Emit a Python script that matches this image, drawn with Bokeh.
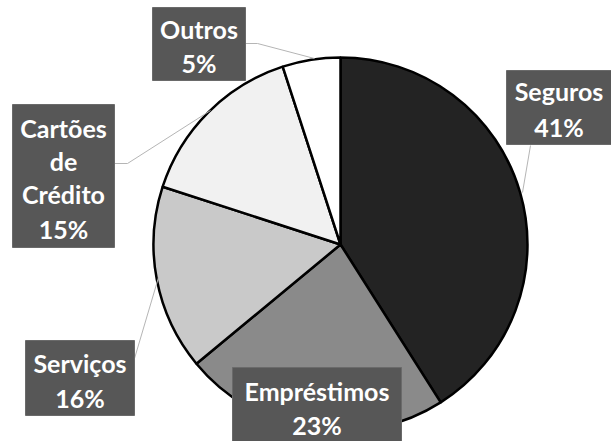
import math
from bokeh.plotting import figure
from bokeh.models import Range1d, ColumnDataSource
from bokeh.core.properties import value
from bokeh.embed import file_html
from bokeh.resources import INLINE

# ---- data ----
categories = ["Seguros", "Empréstimos", "Serviços", "Cartões de Crédito", "Outros"]
label_lines = [["Seguros"], ["Empréstimos"], ["Serviços"], ["Cartões", "de", "Crédito"], ["Outros"]]
shares = [41, 23, 16, 15, 5]
colors = ["#232323", "#8a8a8a", "#c9c9c9", "#f1f1f1", "#ffffff"]

# ---- layout (screen pixel positions in the 611x441 page) ----
W, H = 611, 441
center_xs, center_ys, radius = 340, 244, 187
boxes = {  # left, right, top, bottom (screen px)
    "Seguros": (506, 611, 70, 144),
    "Empréstimos": (232, 401, 367, 443),
    "Serviços": (25, 134, 340, 415),
    "Cartões de Crédito": (12, 114, 104, 247),
    "Outros": (152, 245, 7, 80),
}
line_ys = {
    "Seguros": [90, 126],
    "Empréstimos": [390, 424],
    "Serviços": [362, 397],
    "Cartões de Crédito": [127, 160, 193, 228],
    "Outros": [28, 62],
}
leaders = {
    "Seguros": ([530, 522], [145, 192]),
    "Empréstimos": ([], []),
    "Serviços": ([134, 158], [358, 277]),
    "Cartões de Crédito": ([114, 127, 210], [163, 163, 110]),
    "Outros": ([245, 257, 314], [43, 43, 58]),
}

def fy(ys):
    return H - ys

p = figure(width=W, height=H, output_backend="svg", toolbar_location=None,
           x_range=Range1d(0, W), y_range=Range1d(0, H),
           min_border=0, background_fill_color="white", border_fill_color="white")
p.axis.visible = False
p.grid.visible = False
p.outline_line_color = None

# wedges from data
total = sum(shares)
starts, ends = [], []
cum = 0.0
for s in shares:
    a0 = math.pi / 2 - 2 * math.pi * cum / total
    cum += s
    a1 = math.pi / 2 - 2 * math.pi * cum / total
    starts.append(a0)
    ends.append(a1)
src = ColumnDataSource(dict(start=starts, end=ends, color=colors, cat=categories))
p.wedge(x=center_xs, y=fy(center_ys), radius=radius, start_angle="start", end_angle="end",
        direction="clock", fill_color="color", line_color="black", line_width=2.5, source=src)

# leader lines
lx, ly = [], []
for c in categories:
    xs, ys = leaders[c]
    if xs:
        lx.append(xs)
        ly.append([fy(v) for v in ys])
p.multi_line(lx, ly, line_color="#b5b5b5", line_width=1)

# label boxes
p.quad(left=[boxes[c][0] for c in categories], right=[boxes[c][1] for c in categories],
       top=[fy(boxes[c][2]) for c in categories], bottom=[fy(boxes[c][3]) for c in categories],
       fill_color="#575757", line_color="#6a6a6a", line_width=1)

tx, ty, tt = [], [], []
for c, lines, s in zip(categories, label_lines, shares):
    cx = (boxes[c][0] + boxes[c][1]) / 2
    texts = lines + [f"{s}%"]
    for t, yy in zip(texts, line_ys[c]):
        tx.append(cx)
        ty.append(fy(yy))
        tt.append(t)
p.text(x=tx, y=ty, text=tt, text_align="center", text_baseline="middle",
       text_font=value("Lato"), text_font_style="bold", text_font_size="25px",
       text_color="white")

open("out.html", "w").write(file_html(p, INLINE))
